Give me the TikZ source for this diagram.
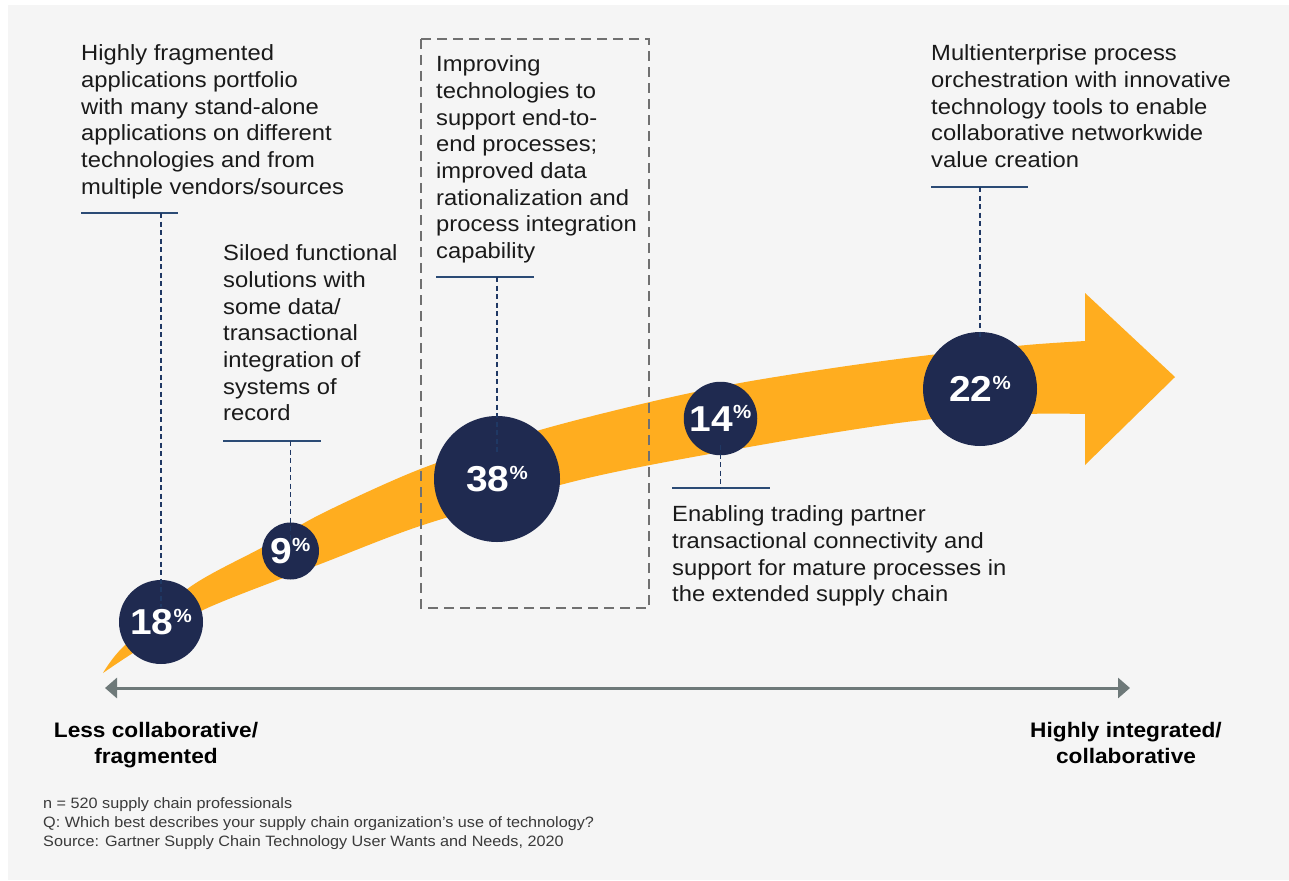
\documentclass[tikz,border=0pt]{standalone}
\usepackage{fontspec}
\setmainfont{Liberation Sans}[FakeStretch=1.08]
\usetikzlibrary{arrows.meta}
\definecolor{bg}{HTML}{F5F5F5}
\definecolor{orng}{HTML}{FFAD1F}
\definecolor{navy}{HTML}{1F2A50}
\definecolor{leadc}{HTML}{1F3864}
\definecolor{hlinec}{HTML}{2B4B75}
\definecolor{boxgray}{HTML}{707070}
\definecolor{axisgray}{HTML}{6E7979}
\definecolor{txtc}{HTML}{1A1A1A}
\definecolor{notec}{HTML}{3A3A3A}
\newcommand{\pctsign}{\raisebox{12.5pt}{\fontsize{19}{19}\selectfont\%}}
\begin{document}
\begin{tikzpicture}[x=1pt,y=-1pt,
  body/.style={anchor=north west, inner sep=0pt, align=left, text=txtc, font=\fontsize{22}{26.67}\selectfont},
  circ/.style={circle, fill=navy, inner sep=0pt, text=white, font=\bfseries\fontsize{36}{36}\selectfont},
  leaderline/.style={leadc, line width=1.3pt, dash pattern=on 5pt off 3.5pt},
  tickline/.style={hlinec, line width=1.5pt},
  endlbl/.style={anchor=north, align=center, inner sep=0pt, text=black, font=\bfseries\fontsize{21}{25.6}\selectfont},
  notes/.style={anchor=north west, align=left, inner sep=0pt, text=notec, font=\fontsize{15}{19}\selectfont}
]
\useasboundingbox (0,0) rectangle (1289,880);
\fill[white] (0,0) rectangle (1289,880);
\fill[bg] (8,5) rectangle (1289,880);

% big orange arrow
\fill[orng] plot[smooth] coordinates {(103,673) (123,647) (190,587) (263,547) (323,513) (423,468) (540,430) (650,402) (740,383) (840,367) (930,355) (1027,345) (1085,341)}
  -- (1085,293) -- (1175,377) -- (1085,465) -- (1085,414)
  -- plot[smooth] coordinates {(1085,414) (1027,414) (923,420) (807,437) (650,465) (560,485) (423,525) (323,563) (203,610) (133,653) (103,673)} -- cycle;

% dashed box
\draw[boxgray, line width=2.8pt, dash pattern=on 10pt off 6pt] (421,39) rectangle (649,608);

% circles
\node[circ, minimum size=84pt] (c18) at (161,622) {18\pctsign};
\node[circ, minimum size=57pt] (c9) at (290.5,551) {9\pctsign};
\node[circ, minimum size=126pt] (c38) at (497,479) {38\pctsign};
\node[circ, minimum size=73.5pt] (c14) at (720.5,418.5) {14\pctsign};
\node[circ, minimum size=114pt] (c22) at (980,389) {22\pctsign};

% texts
\node[body] (t1) at (81,42) {\strut Highly fragmented\\applications portfolio\\with many stand-alone\\applications on different\\technologies and from\\multiple vendors/sources};
\node[body] (t2) at (223,242) {\strut Siloed functional\\solutions with\\some data/\\transactional\\integration of\\systems of\\record};
\node[body] (t3) at (436,53) {\strut Improving\\technologies to\\support end-to-\\end processes;\\improved data\\rationalization and\\process integration\\capability};
\node[body] (t4) at (672,503) {\strut Enabling trading partner\\transactional connectivity and\\support for mature processes in\\the extended supply chain};
\node[body] (t5) at (931,42) {\strut Multienterprise process\\orchestration with innovative\\technology tools to enable\\collaborative networkwide\\value creation};

% leaders
\coordinate (h1L) at (81,213); \coordinate (h1R) at (178,213); \coordinate (h1T) at (161,213); \coordinate (e18) at (161,607);
\coordinate (h2L) at (223,441); \coordinate (h2R) at (321,441); \coordinate (h2T) at (290.5,441); \coordinate (e9) at (290.5,540);
\coordinate (h3L) at (436,277); \coordinate (h3R) at (534,277); \coordinate (h3T) at (497,277); \coordinate (e38) at (497,452);
\coordinate (h4L) at (672,488); \coordinate (h4R) at (770,488); \coordinate (h4T) at (720.5,488); \coordinate (e14) at (720.5,445);
\coordinate (h5L) at (931,187); \coordinate (h5R) at (1028,187); \coordinate (h5T) at (980,187); \coordinate (e22) at (980,338);
\draw[tickline] (h1L) -- (h1R); \draw[leaderline] (h1T) -- (e18);
\draw[tickline] (h2L) -- (h2R); \draw[leaderline] (h2T) -- (e9);
\draw[tickline] (h3L) -- (h3R); \draw[leaderline] (h3T) -- (e38);
\draw[tickline] (h4L) -- (h4R); \draw[leaderline] (e14) -- (h4T);
\draw[tickline] (h5L) -- (h5R); \draw[leaderline] (h5T) -- (e22);

% axis
\coordinate (axL) at (105,688); \coordinate (axR) at (1130,688);
\draw[axisgray, line width=3pt, {Triangle[length=12pt,width=20pt]}-{Triangle[length=12pt,width=20pt]}] (axL) -- (axR);

\node[endlbl] (lessl) at (156,719.8) {\strut Less collaborative/\\fragmented};
\node[endlbl] (highl) at (1126,719.8) {\strut Highly integrated/\\collaborative};

\node[notes] (nt) at (43,794.7) {\strut n = 520 supply chain professionals\\Q: Which best describes your supply chain organization’s use of technology?\\Source: Gartner Supply Chain Technology User Wants and Needs, 2020};
\end{tikzpicture}
\end{document}
